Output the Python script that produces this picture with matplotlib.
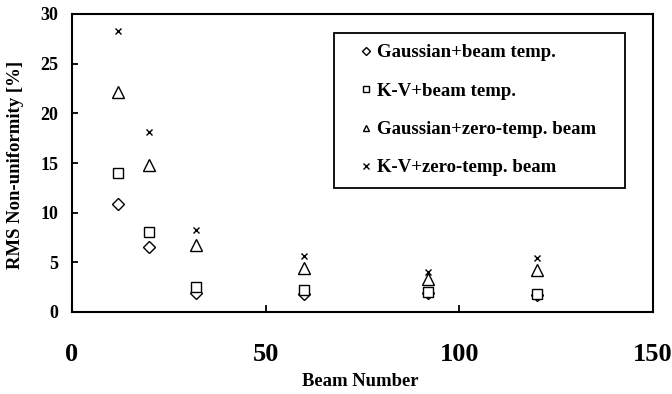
import numpy as np
import matplotlib
matplotlib.use('Agg')
import matplotlib.pyplot as plt

plt.rcParams['font.family'] = ['Liberation Serif', 'DejaVu Serif']
plt.rcParams['font.weight'] = 'bold'

beam_number = [12, 20, 32, 60, 92, 120]
gauss_beam_temp = [10.9, 6.5, 1.95, 1.8, 1.9, 1.7]
kv_beam_temp = [14.0, 8.1, 2.55, 2.2, 2.05, 1.8]
gauss_zero_temp = [22.1, 14.8, 6.7, 4.4, 3.3, 4.2]
kv_zero_temp = [28.3, 18.1, 8.3, 5.65, 4.0, 5.4]

labels = ['Gaussian+beam temp.', 'K-V+beam temp.',
          'Gaussian+zero-temp. beam', 'K-V+zero-temp. beam']

fig = plt.figure(figsize=(6.72, 3.94), dpi=100)
ax = fig.add_axes([72/672, 1-312/394, 581/672, 298/394])

ax.plot(beam_number, gauss_beam_temp, 'D', ms=6, mfc='white', mec='black', mew=1.0, label=labels[0])
ax.plot(beam_number, kv_beam_temp, 's', ms=6.5, mfc='white', mec='black', mew=1.0, label=labels[1])
ax.plot(beam_number, gauss_zero_temp, '^', ms=8, mfc='white', mec='black', mew=1.0, label=labels[2])
ax.plot(beam_number, kv_zero_temp, 'x', ms=4.5, color='black', mew=1.0, label=labels[3])

ax.set_xlim(0, 150)
ax.set_ylim(0, 30)
ax.set_xticks([0, 50, 100, 150])
ax.set_yticks(np.arange(0, 31, 5))
for s in ax.spines.values():
    s.set_linewidth(1.5)
ax.tick_params(axis='x', direction='in', length=5, width=1.3, labelsize=19, pad=22)
ax.tick_params(axis='y', direction='in', length=4, width=1.3, labelsize=13, pad=10)

ax.set_xlabel('Beam Number', fontsize=13.4, fontweight='bold')
ax.xaxis.set_label_coords(0.496, -0.205)
ax.set_ylabel('RMS Non-uniformity [%]', fontsize=13.5, fontweight='bold')
ax.yaxis.set_label_coords(-0.083, 0.493)

# legend box spans x 334-625 px, top at 33 px
leg = ax.legend(loc='upper left', bbox_to_anchor=(0.451, 0.433, 0.501, 0.503),
                mode='expand', borderaxespad=0,
                fancybox=False, framealpha=1, edgecolor='black', fontsize=13.5,
                handlelength=2.2, handletextpad=-0.5, labelspacing=1.13,
                borderpad=0.6)
leg.get_frame().set_linewidth(1.3)
for h in leg.legend_handles:
    h.set_markersize(4.5)

fig.savefig('out.png', dpi=100)
